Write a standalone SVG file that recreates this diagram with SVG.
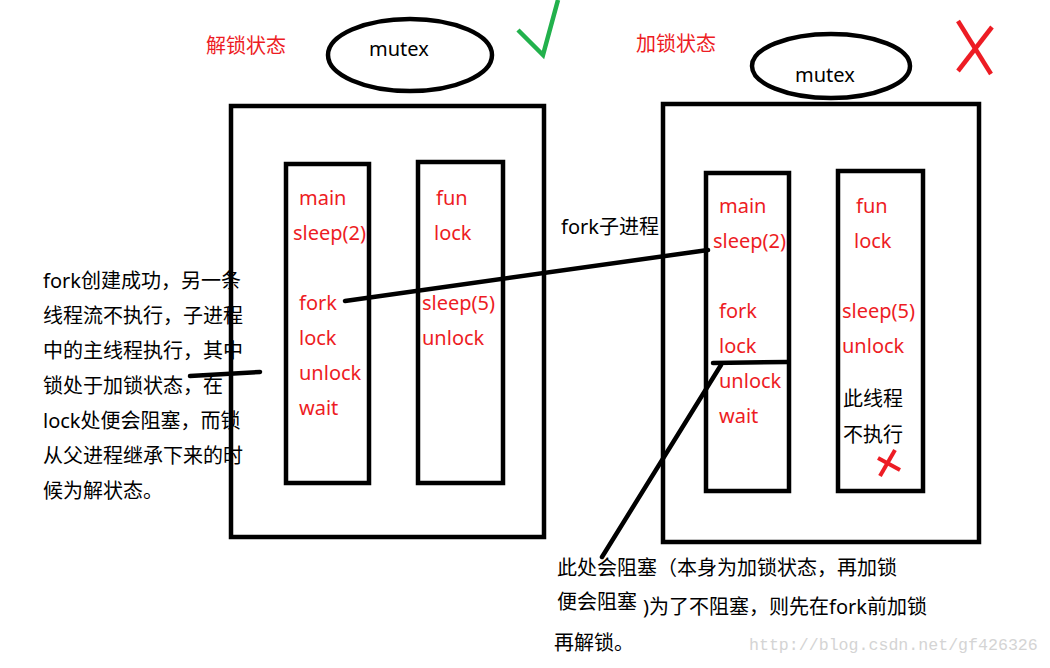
<svg xmlns="http://www.w3.org/2000/svg" width="1050" height="668" viewBox="0 0 1050 668">
<style>
.box{fill:none;stroke:#000;stroke-width:4.5}
.ln{fill:none;stroke:#000;stroke-width:4.5;stroke-linecap:round}
.r{fill:#ed1c24;font-family:"Noto Sans","Noto Sans CJK SC",sans-serif;font-size:20px}
.k{fill:#000;font-family:"Noto Sans","Noto Sans CJK SC",sans-serif;font-size:20px}
.mu{fill:#000;font-family:"Noto Sans","Noto Sans CJK SC",sans-serif;font-size:20px}
</style>
<rect width="1050" height="668" fill="#fff"/>
<g id="left-state">
<text class="r" x="206" y="53">解锁状态</text>
<ellipse class="box" cx="410" cy="55" rx="82" ry="36"/>
<text class="mu" x="369" y="56">mutex</text>
<polyline points="518,30 543,55 558,0" fill="none" stroke="#22b14c" stroke-width="4.5"/>
</g>
<g id="left-process">
<rect class="box" x="231" y="106" width="313" height="431"/>
</g>
<g id="left-main">
<rect class="box" x="286" y="164" width="83" height="319"/>
<text class="r" x="299" y="205">main</text>
<text class="r" x="293" y="240">sleep(2)</text>
<text class="r" x="299" y="310">fork</text>
<text class="r" x="299" y="345">lock</text>
<text class="r" x="299" y="380">unlock</text>
<text class="r" x="299" y="415">wait</text>
</g>
<g id="left-fun">
<rect class="box" x="418" y="162" width="85" height="321"/>
<text class="r" x="436" y="205">fun</text>
<text class="r" x="434" y="240">lock</text>
<text class="r" x="422" y="310">sleep(5)</text>
<text class="r" x="422" y="345">unlock</text>
</g>
<g id="right-state">
<text class="r" x="636" y="51">加锁状态</text>
<ellipse class="box" cx="831" cy="66" rx="79" ry="32"/>
<text class="mu" x="795" y="82">mutex</text>
<line x1="958" y1="21" x2="991" y2="74" stroke="#ed1c24" stroke-width="4.5"/>
<line x1="992" y1="27" x2="958" y2="71" stroke="#ed1c24" stroke-width="4.5"/>
</g>
<g id="right-process">
<rect class="box" x="663" y="104" width="316" height="438"/>
</g>
<g id="right-main">
<rect class="box" x="706" y="173" width="83" height="318"/>
<text class="r" x="719" y="213">main</text>
<text class="r" x="713" y="248">sleep(2)</text>
<text class="r" x="719" y="318">fork</text>
<text class="r" x="719" y="353">lock</text>
<text class="r" x="719" y="388">unlock</text>
<text class="r" x="719" y="423">wait</text>
</g>
<g id="right-fun">
<rect class="box" x="838" y="171" width="85" height="320"/>
<text class="r" x="856" y="213">fun</text>
<text class="r" x="854" y="248">lock</text>
<text class="r" x="842" y="318">sleep(5)</text>
<text class="r" x="842" y="353">unlock</text>
<text class="k" x="843" y="406">此线程</text>
<text class="k" x="843" y="442">不执行</text>
<line x1="880" y1="476" x2="895" y2="450" stroke="#ed1c24" stroke-width="4"/>
<line x1="878" y1="458" x2="900" y2="470" stroke="#ed1c24" stroke-width="4"/>
</g>
<g id="connectors">
<line class="ln" x1="345" y1="301" x2="708" y2="250"/>
<line class="ln" x1="190" y1="376" x2="260" y2="372"/>
<line class="ln" x1="713" y1="363" x2="787" y2="362"/>
<line class="ln" x1="721" y1="365" x2="602" y2="557"/>
</g>
<g id="labels">
<text class="k" x="561" y="234">fork子进程</text>
<g class="k">
<text x="43" y="288">fork创建成功，另一条</text>
<text x="43" y="323">线程流不执行，子进程</text>
<text x="43" y="358">中的主线程执行，其中</text>
<text x="43" y="393">锁处于加锁状态，在</text>
<text x="43" y="428">lock处便会阻塞，而锁</text>
<text x="43" y="463">从父进程继承下来的时</text>
<text x="43" y="498">候为解状态。</text>
</g>
<g class="k">
<text x="557" y="575">此处会阻塞（本身为加锁状态，再加锁</text>
<text x="557" y="609">便会阻塞</text>
<text x="643" y="614">)为了不阻塞，则先在fork前加锁</text>
<text x="554" y="650">再解锁。</text>
</g>
<text x="749" y="650" style="fill:#d4d4d4;font-family:'Liberation Mono',monospace;font-size:16.6px">http://blog.csdn.net/gf426326</text>
</g>
</svg>
